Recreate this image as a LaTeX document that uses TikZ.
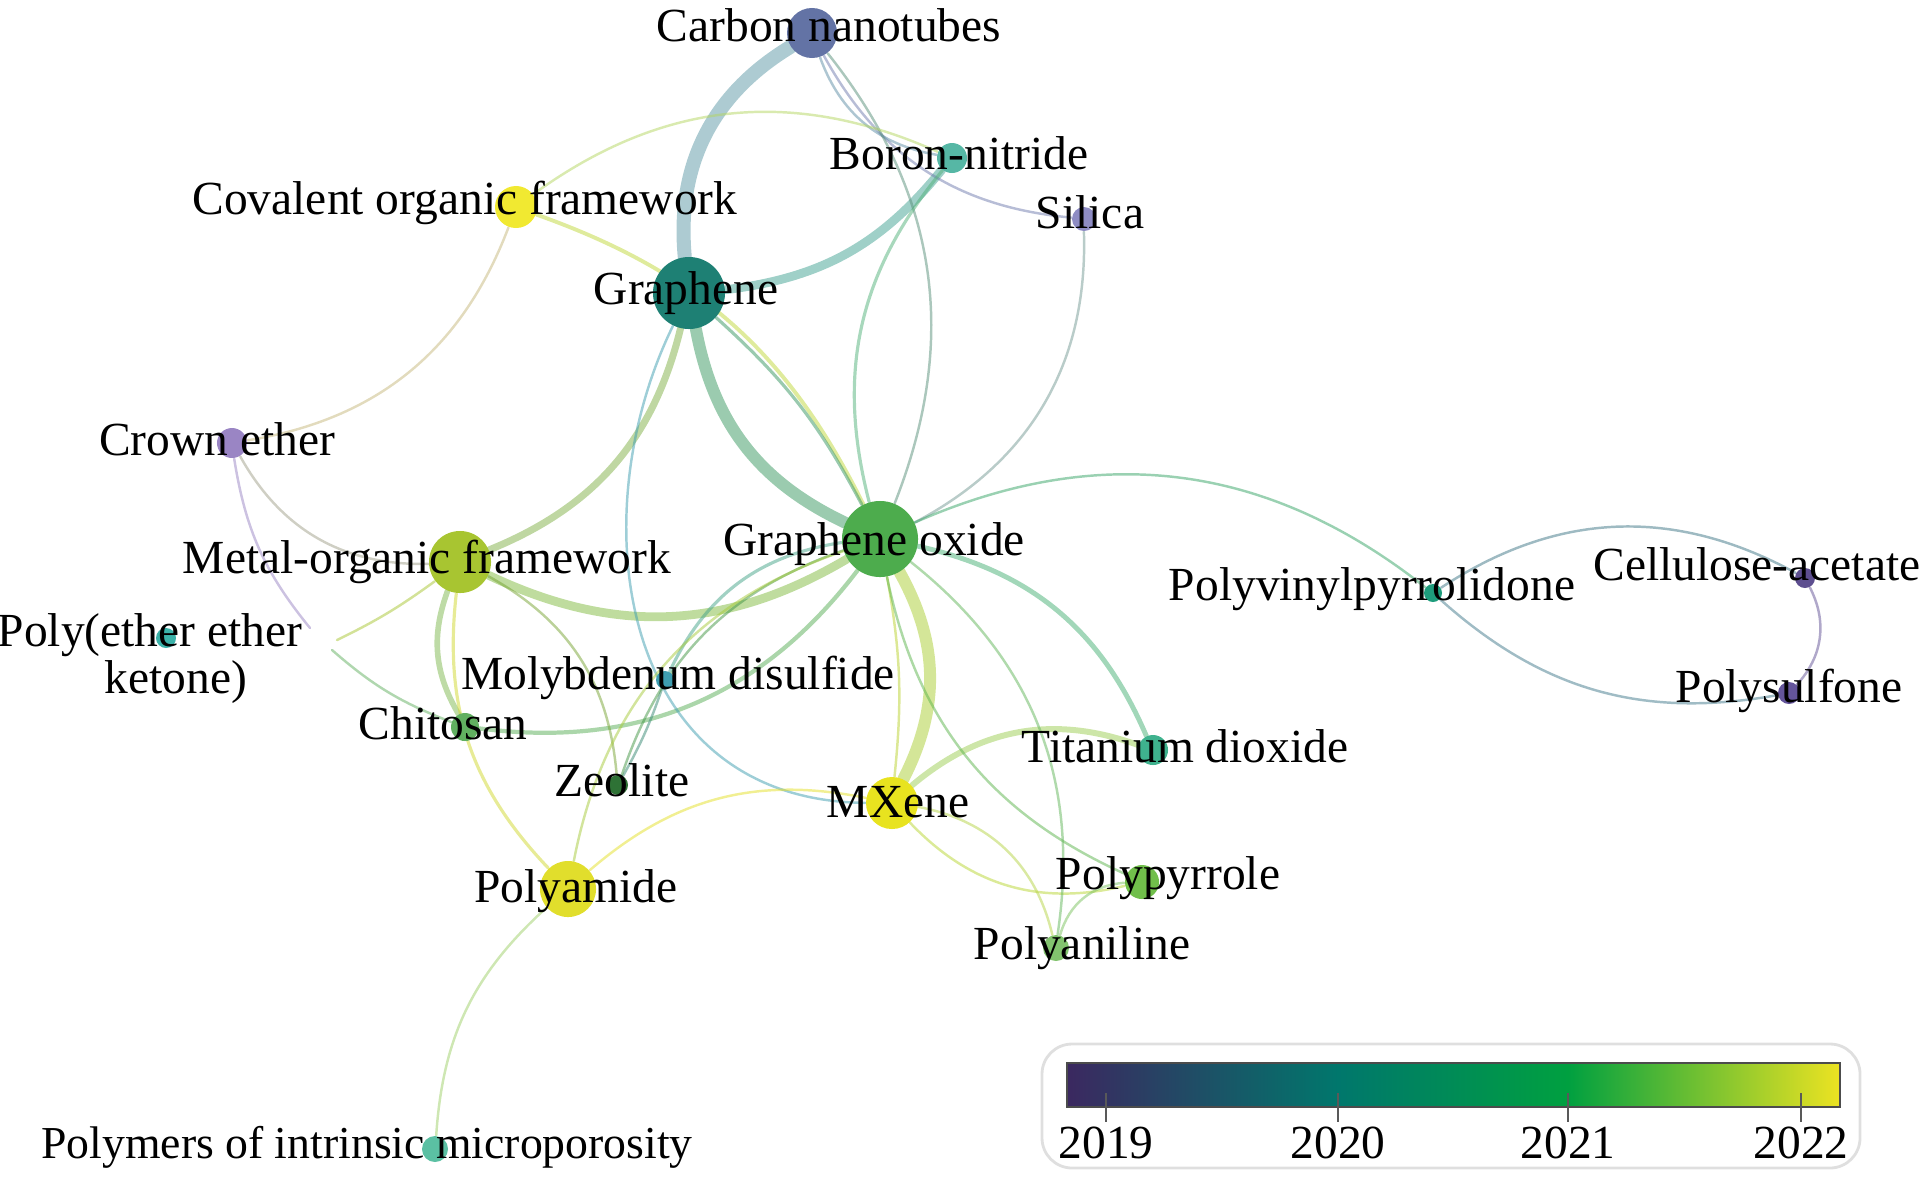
\documentclass[tikz,border=0pt]{standalone}
\usepackage{fontspec}
\setmainfont{Liberation Serif}
\usepackage{tikz}
\usetikzlibrary{backgrounds}

\definecolor{cnano}{HTML}{6373A5}
\definecolor{cboron}{HTML}{56B7A5}
\definecolor{csilica}{HTML}{8E8CC4}
\definecolor{ccof}{HTML}{F1E931}
\definecolor{cgraph}{HTML}{1E8074}
\definecolor{ccrown}{HTML}{9A85C4}
\definecolor{cmof}{HTML}{A8C531}
\definecolor{coxide}{HTML}{4DAC4D}
\definecolor{cpvp}{HTML}{1E9C7C}
\definecolor{cacetate}{HTML}{5D4E8F}
\definecolor{csulfone}{HTML}{64559B}
\definecolor{cpeek}{HTML}{3BB2A9}
\definecolor{cmos}{HTML}{3E9DB0}
\definecolor{cchitosan}{HTML}{61B060}
\definecolor{czeolite}{HTML}{2E7235}
\definecolor{cmxene}{HTML}{E8E31F}
\definecolor{ctitanium}{HTML}{3FB28E}
\definecolor{camide}{HTML}{E1DE2C}
\definecolor{cpyrrole}{HTML}{71BF4B}
\definecolor{caniline}{HTML}{82C36E}
\definecolor{cpim}{HTML}{5BC0A3}
\definecolor{y2019}{HTML}{3B2860}
\definecolor{y2020}{HTML}{00776C}
\definecolor{y2021}{HTML}{00A040}
\definecolor{y2022}{HTML}{ECE322}

\tikzset{
    mydot/.style={circle, inner sep=0pt, minimum size=#1mm},
    mylabel/.style={font=\fontsize{13.5pt}{12.2pt}\selectfont, anchor=base, inner sep=0pt},
    mylink/.style={line cap=round, draw opacity=0.5, line width=#1pt},
    mylink/.default=0.7
}

\begin{document}
\begin{tikzpicture}[x=0.01cm, y=-0.01cm]
    \useasboundingbox (0,0) rectangle (1925,1181);
    \draw (812,33) node[mydot=5.0, fill=cnano] (nanotubes) {};
    \draw (952,158) node[mydot=3.0, fill=cboron] (boron) {};
    \draw (1084,219) node[mydot=2.4, fill=csilica] (silica) {};
    \draw (516,207) node[mydot=4.2, fill=ccof] (covalent) {};
    \draw (689,293) node[mydot=7.2, fill=cgraph] (graphene) {};
    \draw (232,443) node[mydot=3.0, fill=ccrown] (crown) {};
    \draw (460,562) node[mydot=6.2, fill=cmof] (metal) {};
    \draw (880,539) node[mydot=7.6, fill=coxide] (oxide) {};
    \draw (1433,593) node[mydot=1.8, fill=cpvp] (pvp) {};
    \draw (1805,578) node[mydot=2.0, fill=cacetate] (acetate) {};
    \draw (1789,693) node[mydot=2.2, fill=csulfone] (sulfone) {};
    \draw (166,638) node[mydot=2.0, fill=cpeek] (peek) {};
    \draw (665,680) node[mydot=1.8, fill=cmos] (molybdenum) {};
    \draw (465,727) node[mydot=2.8, fill=cchitosan] (chitosan) {};
    \draw (618,785) node[mydot=2.0, fill=czeolite] (zeolite) {};
    \draw (892,803) node[mydot=5.2, fill=cmxene] (mxene) {};
    \draw (1153,750) node[mydot=3.0, fill=ctitanium] (titanium) {};
    \draw (568,889) node[mydot=5.6, fill=camide] (polyamide) {};
    \draw (1142,882) node[mydot=3.4, fill=cpyrrole] (pyrrole) {};
    \draw (1056,948) node[mydot=2.6, fill=caniline] (aniline) {};
    \draw (435,1149) node[mydot=2.6, fill=cpim] (pim) {};
    \coordinate (peekcrown) at (310,628);
    \coordinate (peekmetal) at (337,640);
    \coordinate (peekchitosan) at (332,650);

    \draw (829,41) node[mylabel] (nanotubeslabel) {Carbon nanotubes};
    \draw (959,169) node[mylabel] (boronlabel) {Boron-nitride};
    \draw (1090,228) node[mylabel] (silicalabel) {Silica};
    \draw (465,214) node[mylabel] (covalentlabel) {Covalent organic framework};
    \draw (686,304) node[mylabel] (graphenelabel) {Graphene};
    \draw (217,455) node[mylabel] (crownlabel) {Crown ether};
    \draw (427,573) node[mylabel] (metallabel) {Metal-organic framework};
    \draw (874,555) node[mylabel] (oxidelabel) {Graphene oxide};
    \draw (1372,600) node[mylabel] (pvplabel) {Polyvinylpyrrolidone};
    \draw (1757,580) node[mylabel] (acetatelabel) {Cellulose-acetate};
    \draw (1789,702) node[mylabel] (sulfonelabel) {Polysulfone};
    \draw (150,693) node[mylabel, align=center] (peeklabel) {Poly(ether ether\\\hspace*{0.52cm}ketone)};
    \draw (678,689) node[mylabel] (molybdenumlabel) {Molybdenum disulfide};
    \draw (443,739) node[mylabel] (chitosanlabel) {Chitosan};
    \draw (622,796) node[mylabel] (zeolitelabel) {Zeolite};
    \draw (898,817) node[mylabel] (mxenelabel) {MXene};
    \draw (1185,762) node[mylabel] (titaniumlabel) {Titanium dioxide};
    \draw (576,902) node[mylabel] (polyamidelabel) {Polyamide};
    \draw (1168,889) node[mylabel] (pyrrolelabel) {Polypyrrole};
    \draw (1082,959) node[mylabel] (anilinelabel) {Polyaniline};
    \draw (367,1158) node[mylabel, font=\fontsize{13pt}{12.2pt}\selectfont] (pimlabel) {Polymers of intrinsic microporosity};

    \begin{pgfonlayer}{background}
    \draw[mylink=4, draw=cnano!45!cboron] (nanotubes) to[bend right=32] (graphene);
    \draw[mylink=3.4, draw=cgraph!45!coxide] (graphene) to[bend right=27] (oxide);
    \draw[mylink=3.4, draw=coxide!40!cmxene] (oxide) to[bend left=28] (mxene);
    \draw[mylink=2.5, draw=cmof!55!coxide] (metal) to[bend right=28] (oxide);
    \draw[mylink=2.5, draw=cgraph!40!cboron] (graphene) to[bend right=22] (boron);
    \draw[mylink=2, draw=cgraph!30!cmof] (graphene) to[bend left=27] (metal);
    \draw[mylink=1.7, draw=cmxene!55!ctitanium] (mxene) to[bend left=30] (titanium);
    \draw[mylink=1.4, draw=coxide!40!ctitanium] (oxide) to[bend left=27] (titanium);
    \draw[mylink=1.6, draw=cmof!40!cchitosan] (metal) to[bend right=25] (chitosan);
    \draw[mylink=1.2, draw=cchitosan!50!coxide] (chitosan) to[bend right=30] (oxide);
    \draw[mylink=1.1, draw=ccof!70!coxide] (covalent) to[bend left=22] (oxide);
    \draw[mylink, draw=cnano!70!csilica] (nanotubes) to[bend right=28] (silica);
    \draw[mylink, draw=cnano!60!cboron] (nanotubes) to[bend right=30] (boron);
    \draw[mylink, draw=cnano!50!coxide] (nanotubes) to[bend left=30] (oxide);
    \draw[mylink=0.9, draw=cboron!50!coxide] (boron) to[bend right=27] (oxide);
    \draw[mylink, draw=csilica!60!coxide] (silica) to[bend left=32] (oxide);
    \draw[mylink, draw=ccof!60!cboron] (covalent) to[bend left=30] (boron);
    \draw[mylink, draw=ccof!50!ccrown] (covalent) to[bend left=30] (crown);
    \draw[mylink=0.9, draw=cgraph!50!coxide] (graphene) to[bend left=10] (oxide);
    \draw[mylink, draw=cmos] (graphene) .. controls +(-110,225) and +(-273,-2) .. (mxene);
    \draw[mylink, draw=ccrown!60!cmof] (crown) to[bend right=31] (metal);
    \draw[mylink, draw=ccrown] (crown) to[bend right=15] (peekcrown);
    \draw[mylink, draw=cmof] (metal) to[bend left=5] (peekmetal);
    \draw[mylink, draw=cchitosan] (chitosan) to[bend left=10] (peekchitosan);
    \draw[mylink=0.9, draw=cmof!30!camide] (metal) to[bend right=25] (polyamide);
    \draw[mylink, draw=cmof!60!czeolite] (metal) to[bend left=28] (zeolite);
    \draw[mylink=0.9, draw=cmos!60!coxide] (molybdenum) to[bend left=28] (oxide);
    \draw[mylink, draw=cmos!50!czeolite] (molybdenum) to[bend left=5] (zeolite);
    \draw[mylink, draw=czeolite!40!coxide] (zeolite) to[bend left=26] (oxide);
    \draw[mylink, draw=camide!60!coxide] (polyamide) to[bend left=30] (oxide);
    \draw[mylink, draw=coxide!30!cmxene] (oxide) to[bend left=8] (mxene);
    \draw[mylink, draw=coxide!50!cpvp] (oxide) to[bend left=31] (pvp);
    \draw[mylink, draw=cpvp!50!cacetate] (pvp) to[bend left=31] (acetate);
    \draw[mylink, draw=cpvp!50!csulfone] (pvp) to[bend right=26] (sulfone);
    \draw[mylink, draw=cacetate!50!csulfone] (acetate) to[bend left=35] (sulfone);
    \draw[mylink, draw=cmxene!50!camide] (mxene) to[bend right=26] (polyamide);
    \draw[mylink, draw=cmxene!60!cpyrrole] (mxene) to[bend right=30] (pyrrole);
    \draw[mylink, draw=cmxene!50!caniline] (mxene) to[bend left=33] (aniline);
    \draw[mylink, draw=caniline!50!cpyrrole] (aniline) to[bend left=35] (pyrrole);
    \draw[mylink, draw=coxide!60!cpyrrole] (oxide) to[bend right=27] (pyrrole);
    \draw[mylink, draw=coxide!60!caniline] (oxide) to[bend left=30] (aniline);
    \draw[mylink, draw=camide!50!cpim] (polyamide) to[bend right=22] (pim);
    \end{pgfonlayer}

    \draw[rounded corners=0.3cm, draw=gray!25, line width=0.8pt] (1042,1044) rectangle (1860,1168);
    \shade[left color=y2019, right color=y2020] (1067,1063) rectangle (1338,1107);
    \shade[left color=y2020, right color=y2021] (1338,1063) rectangle (1568,1107);
    \shade[left color=y2021, right color=y2022] (1568,1063) rectangle (1840,1107);
    \draw[gray!60!black, line width=0.6pt] (1067,1063) rectangle (1840,1107);
    \foreach \yr/\tx in {2019/1106, 2020/1338, 2021/1568, 2022/1801} {
        \draw[gray!70!black, line width=0.8pt] (\tx,1093) -- (\tx,1122);
        \draw (\tx,1158) node[mylabel] (year\yr) {\yr};
    }
\end{tikzpicture}
\end{document}
